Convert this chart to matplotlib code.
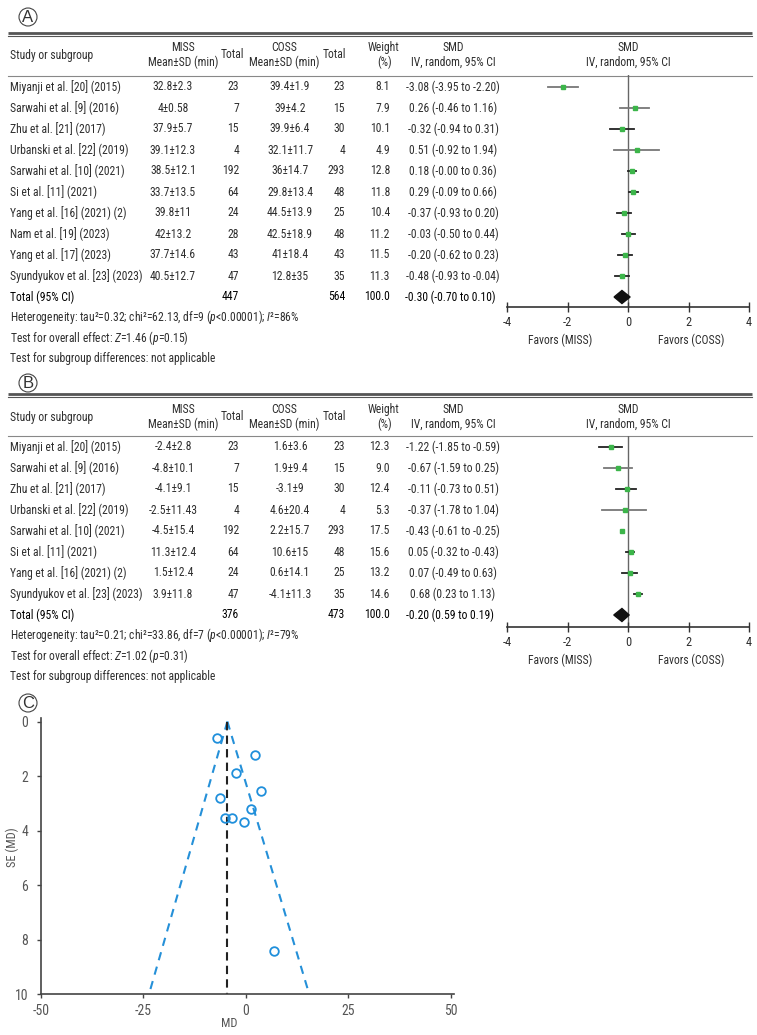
import matplotlib
matplotlib.use('Agg')
import matplotlib.pyplot as plt
from matplotlib import font_manager
from matplotlib.patches import Circle, Polygon

names = {f.name for f in font_manager.fontManager.ttflist}
FONT, FS = 'Liberation Sans', 7.6
for cand, size in [('Roboto Condensed', 8.4), ('Archivo Narrow', 8.8),
                   ('Liberation Sans Narrow', 8.9)]:
    if cand in names:
        FONT, FS = cand, size
        break
plt.rcParams['font.family'] = [FONT, 'DejaVu Sans']
plt.rcParams['axes.unicode_minus'] = False
plt.rcParams['mathtext.fontset'] = 'custom'
plt.rcParams['mathtext.rm'] = FONT
plt.rcParams['mathtext.it'] = FONT + ':italic'
plt.rcParams['mathtext.bf'] = FONT + ':bold'

# ---------------- Panel A data ----------------
studies_a = ["Miyanji et al. [20] (2015)", "Sarwahi et al. [9] (2016)", "Zhu et al. [21] (2017)",
             "Urbanski et al. [22] (2019)", "Sarwahi et al. [10] (2021)", "Si et al. [11] (2021)",
             "Yang et al. [16] (2021) (2)", "Nam et al. [19] (2023)", "Yang et al. [17] (2023)",
             "Syundyukov et al. [23] (2023)"]
miss_a = ["32.8±2.3", "4±0.58", "37.9±5.7", "39.1±12.3", "38.5±12.1", "33.7±13.5", "39.8±11",
          "42±13.2", "37.7±14.6", "40.5±12.7"]
miss_n_a = ["23", "7", "15", "4", "192", "64", "24", "28", "43", "47"]
coss_a = ["39.4±1.9", "39±4.2", "39.9±6.4", "32.1±11.7", "36±14.7", "29.8±13.4", "44.5±13.9",
          "42.5±18.9", "41±18.4", "12.8±35"]
coss_n_a = ["23", "15", "30", "4", "293", "48", "25", "48", "43", "35"]
weight_a = ["8.1", "7.9", "10.1", "4.9", "12.8", "11.8", "10.4", "11.2", "11.5", "11.3"]
smd_a = ["-3.08 (-3.95 to -2.20)", "0.26 (-0.46 to 1.16)", "-0.32 (-0.94 to 0.31)",
         "0.51 (-0.92 to 1.94)", "0.18 (-0.00 to 0.36)", "0.29 (-0.09 to 0.66)",
         "-0.37 (-0.93 to 0.20)", "-0.03 (-0.50 to 0.44)", "-0.20 (-0.62 to 0.23)",
         "-0.48 (-0.93 to -0.04)"]
total_a = ["447", "564", "100.0", "-0.30 (-0.70 to 0.10)"]
pt_a = [-2.15, 0.22, -0.19, 0.31, 0.13, 0.18, -0.13, 0.01, -0.11, -0.20]
lo_a = [-2.63, -0.25, -0.58, -0.45, -0.01, 0.04, -0.36, -0.21, -0.33, -0.43]
hi_a = [-1.65, 0.68, 0.19, 1.01, 0.27, 0.32, 0.10, 0.24, 0.13, 0.03]
diamond_a = [-0.46, -0.20, 0.07]
foot_a = [r"Heterogeneity: tau²=0.32; chi²=62.13, df=9 ($\mathit{p}$<0.00001); $\mathit{I}$²=86%",
          r"Test for overall effect: $\mathit{Z}$=1.46 ($\mathit{p}$=0.15)",
          "Test for subgroup differences: not applicable"]
ci_col_a = ['#777777', '#777777', '#222222', '#777777', '#222222', '#222222', '#222222',
            '#222222', '#222222', '#222222']

# ---------------- Panel B data ----------------
studies_b = ["Miyanji et al. [20] (2015)", "Sarwahi et al. [9] (2016)", "Zhu et al. [21] (2017)",
             "Urbanski et al. [22] (2019)", "Sarwahi et al. [10] (2021)", "Si et al. [11] (2021)",
             "Yang et al. [16] (2021) (2)", "Syundyukov et al. [23] (2023)"]
miss_b = ["-2.4±2.8", "-4.8±10.1", "-4.1±9.1", "-2.5±11.43", "-4.5±15.4", "11.3±12.4",
          "1.5±12.4", "3.9±11.8"]
miss_n_b = ["23", "7", "15", "4", "192", "64", "24", "47"]
coss_b = ["1.6±3.6", "1.9±9.4", "-3.1±9", "4.6±20.4", "2.2±15.7", "10.6±15", "0.6±14.1",
          "-4.1±11.3"]
coss_n_b = ["23", "15", "30", "4", "293", "48", "25", "35"]
weight_b = ["12.3", "9.0", "12.4", "5.3", "17.5", "15.6", "13.2", "14.6"]
smd_b = ["-1.22 (-1.85 to -0.59)", "-0.67 (-1.59 to 0.25)", "-0.11 (-0.73 to 0.51)",
         "-0.37 (-1.78 to 1.04)", "-0.43 (-0.61 to -0.25)", "0.05 (-0.32 to -0.43)",
         "0.07 (-0.49 to 0.63)", "0.68 (0.23 to 1.13)"]
total_b = ["376", "473", "100.0", "-0.20 (0.59 to 0.19)"]
pt_b = [-0.57, -0.33, -0.03, -0.11, -0.19, 0.10, 0.05, 0.32]
lo_b = [-0.96, -0.78, -0.40, -0.87, -0.19, -0.06, -0.19, 0.21]
hi_b = [-0.21, 0.12, 0.27, 0.58, -0.19, 0.21, 0.29, 0.46]
diamond_b = [-0.47, -0.20, 0.04]
foot_b = [r"Heterogeneity: tau²=0.21; chi²=33.86, df=7 ($\mathit{p}$<0.00001); $\mathit{I}$²=79%",
          r"Test for overall effect: $\mathit{Z}$=1.02 ($\mathit{p}$=0.31)",
          "Test for subgroup differences: not applicable"]
ci_col_b = ['#222222', '#777777', '#222222', '#777777', '#222222', '#222222', '#222222', '#222222']

forest_ticks = [-4, -2, 0, 2, 4]

# ---------------- Panel C data (funnel) ----------------
md_c = [-6.9, 2.36, -2.36, 3.66, -6.34, 1.3, -4.96, -3.33, -0.49, 6.83]
se_c = [0.59, 1.21, 1.87, 2.56, 2.82, 3.2, 3.53, 3.53, 3.69, 8.42]
pooled_md = -4.47
funnel_left_x = -23.6
funnel_right_x = 15.5
funnel_se_max = 10
funnel_xticks = [-50, -25, 0, 25, 50]
funnel_yticks = [0, 2, 4, 6, 8, 10]

# ---------------- Figure ----------------
W, H = 757, 1035
fig = plt.figure(figsize=(W / 100, H / 100), dpi=100)
ov = fig.add_axes([0, 0, 1, 1])
ov.set_xlim(0, W)
ov.set_ylim(H, 0)
ov.axis('off')

TXT = '#2e2e2e'
GREEN = '#3cb54a'
ROW_DY = 21
FX0, FX1 = 507, 749


def circled(y, letter):
    ov.add_patch(Circle((28, y), 9, fill=False, lw=0.8, ec='#444444'))
    ov.text(28, y + 0.5, letter, ha='center', va='center', fontsize=12,
            family=['Liberation Sans', 'DejaVu Sans'], color='#333333')


def panel(letter, letter_y, line_y, head_y, underline, row0, studies, miss, miss_n, coss,
          coss_n, weight, smd, total, pt, lo, hi, diamond, foot, ci_col, axis_gap):
    circled(letter_y, letter)
    ov.plot([8, 752], [line_y, line_y], color='#555555', lw=2.0, solid_capstyle='butt')
    ov.plot([8, 752], [line_y + 2.6, line_y + 2.6], color='#555555', lw=0.8)
    ov.plot([8, 752], [underline, underline], color='#888888', lw=0.8)
    h1, h2 = head_y - 7.5, head_y + 7.5
    kw = dict(fontsize=FS, color=TXT, va='center')
    ov.text(10, head_y, "Study or subgroup", ha='left', **kw)
    ov.text(183, h1, "MISS", ha='center', **kw)
    ov.text(183, h2, "Mean±SD (min)", ha='center', **kw)
    ov.text(232, head_y, "Total", ha='center', **kw)
    ov.text(284, h1, "COSS", ha='center', **kw)
    ov.text(284, h2, "Mean±SD (min)", ha='center', **kw)
    ov.text(334, head_y, "Total", ha='center', **kw)
    ov.text(383, h1, "Weight", ha='center', **kw)
    ov.text(385, h2, "(%)", ha='center', **kw)
    ov.text(453, h1, "SMD", ha='center', **kw)
    ov.text(453, h2, "IV, random, 95% CI", ha='center', **kw)
    ov.text(628, h1, "SMD", ha='center', **kw)
    ov.text(628, h2, "IV, random, 95% CI", ha='center', **kw)

    n = len(studies)
    for i in range(n):
        y = row0 + i * ROW_DY
        ov.text(10, y, studies[i], ha='left', **kw)
        ov.text(173, y, miss[i], ha='center', **kw)
        ov.text(239, y, miss_n[i], ha='right', **kw)
        ov.text(290, y, coss[i], ha='center', **kw)
        ov.text(345, y, coss_n[i], ha='right', **kw)
        ov.text(390, y, weight[i], ha='right', **kw)
        ov.text(453, y, smd[i], ha='center', **kw)
    yt = row0 + n * ROW_DY
    kt = dict(fontsize=FS, color='#000000', va='center')
    ov.text(10, yt, "Total (95% CI)", ha='left', **kt)
    ov.text(239, yt, total[0], ha='right', **kt)
    ov.text(345, yt, total[1], ha='right', **kt)
    ov.text(390, yt, total[2], ha='right', **kt)
    ov.text(450, yt, total[3], ha='center', **kt)
    for k, s in enumerate(foot):
        ov.text(10, yt + 20.5 * (k + 1), s, ha='left', **kw)

    axis_y = yt + axis_gap
    ax = fig.add_axes([FX0 / W, 1 - axis_y / H, (FX1 - FX0) / W, (axis_y - underline) / H])
    ax.set_facecolor('none')
    ax.set_xlim(-4, 4)
    ax.set_ylim((axis_y - row0) / ROW_DY, (underline - row0) / ROW_DY)
    for s in ['top', 'left', 'right']:
        ax.spines[s].set_visible(False)
    ax.spines['bottom'].set_color('#333333')
    ax.spines['bottom'].set_linewidth(1.2)
    ax.set_yticks([])
    ax.set_xticks(forest_ticks)
    ax.set_xticklabels([str(t) for t in forest_ticks])
    ax.tick_params(axis='x', direction='inout', length=7, width=1.0, color='#333333',
                   labelsize=FS + 0.5, labelcolor=TXT, pad=3)
    ax.axvline(0, color='#666666', lw=1.0, zorder=1)
    rows = list(range(n))
    for i in rows:
        ax.plot([lo[i], hi[i]], [i, i], color=ci_col[i], lw=1.3, zorder=2)
    ax.plot(pt, rows, 's', color=GREEN, ms=3.4, mec=GREEN, zorder=3, linestyle='none')
    hd = 0.31
    ax.add_patch(Polygon([(diamond[0], n), (diamond[1], n - hd), (diamond[2], n),
                          (diamond[1], n + hd)], closed=True, fc='#111111', ec='#111111',
                         zorder=3))
    fy = axis_y + 33
    ov.text(560, fy, "Favors (MISS)", ha='center', **kw)
    ov.text(691, fy, "Favors (COSS)", ha='center', **kw)


panel('A', 17, 33, 55, 75.5, 87, studies_a, miss_a, miss_n_a, coss_a, coss_n_a, weight_a,
      smd_a, total_a, pt_a, lo_a, hi_a, diamond_a, foot_a, ci_col_a, 10)
panel('B', 383, 394, 417, 436, 447, studies_b, miss_b, miss_n_b, coss_b, coss_n_b, weight_b,
      smd_b, total_b, pt_b, lo_b, hi_b, diamond_b, foot_b, ci_col_b, 12)

# ---------------- Panel C ----------------
circled(703, 'C')
cx0, cx1, cy0, cy1 = 40.7, 454.0, 718.3, 994.3
axc = fig.add_axes([cx0 / W, 1 - cy1 / H, (cx1 - cx0) / W, (cy1 - cy0) / H])
axc.set_facecolor('none')
axc.set_xlim(-50, 50.8)
axc.set_ylim(funnel_se_max, -0.12)
for s in ['top', 'right']:
    axc.spines[s].set_visible(False)
for s in ['left', 'bottom']:
    axc.spines[s].set_color('#444444')
    axc.spines[s].set_linewidth(1.2)
axc.set_xticks(funnel_xticks)
axc.set_xticklabels([str(t) for t in funnel_xticks])
axc.set_yticks(funnel_yticks)
axc.set_yticklabels([str(t) for t in funnel_yticks])
axc.tick_params(length=3, width=1.0, color='#444444', labelsize=FS + 1.5, labelcolor='#555555')
axc.tick_params(axis='x', pad=4)
axc.tick_params(axis='y', pad=6)
BLUE = '#2590d8'
axc.plot([pooled_md, funnel_left_x], [0, funnel_se_max], color=BLUE, lw=1.5,
         dashes=(4, 3.2), clip_on=False)
axc.plot([pooled_md, funnel_right_x], [0, funnel_se_max], color=BLUE, lw=1.5,
         dashes=(4, 3.2), clip_on=False)
axc.plot([pooled_md, pooled_md], [0, funnel_se_max], color='#222222', lw=1.5, dashes=(4, 2.5))
axc.plot(md_c, se_c, 'o', mfc='none', mec='#1f8fdb', mew=1.3, ms=6.2, linestyle='none',
         zorder=4)
axc.set_xlabel("MD", fontsize=FS + 0.5, color='#555555')
axc.xaxis.set_label_coords((229 - cx0) / (cx1 - cx0), -0.083)
axc.set_ylabel("SE (MD)", fontsize=FS + 0.5, color='#555555')
axc.yaxis.set_label_coords(-0.052, (cy1 - 847) / (cy1 - cy0))

fig.savefig('out.png', dpi=100)
